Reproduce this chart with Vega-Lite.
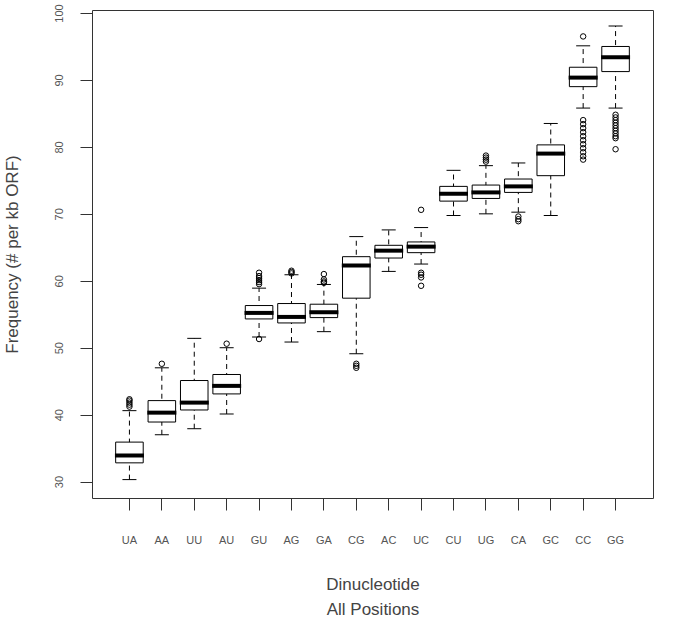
{
  "$schema": "https://vega.github.io/schema/vega-lite/v6.json",
  "width": 561,
  "height": 488,
  "autosize": {"type": "none"},
  "padding": {"left": 92, "top": 10, "right": 33, "bottom": 120},
  "background": "white",
  "config": {
    "view": {"stroke": "#333", "strokeWidth": 1},
    "font": "Liberation Sans",
    "axis": {"grid": false, "domain": false, "tickColor": "#333", "tickSize": 12, "labelColor": "#555", "titleColor": "#444", "titleFontWeight": "normal", "labelFont": "Liberation Sans", "titleFont": "Liberation Sans"}
  },
  "datasets": {
    "boxes": [
      {"cat": "UA", "lo": 30.3, "q1": 32.8, "med": 33.9, "q3": 35.9, "hi": 40.6},
      {"cat": "AA", "lo": 37.0, "q1": 38.9, "med": 40.3, "q3": 42.1, "hi": 47.0},
      {"cat": "UU", "lo": 37.9, "q1": 40.7, "med": 41.8, "q3": 45.1, "hi": 51.4},
      {"cat": "AU", "lo": 40.1, "q1": 43.1, "med": 44.3, "q3": 46.0, "hi": 50.0},
      {"cat": "GU", "lo": 51.6, "q1": 54.3, "med": 55.2, "q3": 56.3, "hi": 58.9},
      {"cat": "AG", "lo": 50.85, "q1": 53.7, "med": 54.6, "q3": 56.6, "hi": 60.9},
      {"cat": "GA", "lo": 52.4, "q1": 54.5, "med": 55.3, "q3": 56.5, "hi": 59.45},
      {"cat": "CG", "lo": 49.1, "q1": 57.4, "med": 62.3, "q3": 63.6, "hi": 66.6},
      {"cat": "AC", "lo": 61.4, "q1": 63.4, "med": 64.5, "q3": 65.3, "hi": 67.6},
      {"cat": "UC", "lo": 62.5, "q1": 64.2, "med": 65.1, "q3": 65.8, "hi": 67.95},
      {"cat": "CU", "lo": 69.75, "q1": 71.9, "med": 73.0, "q3": 74.1, "hi": 76.5},
      {"cat": "UG", "lo": 70.0, "q1": 72.3, "med": 73.2, "q3": 74.3, "hi": 77.2},
      {"cat": "CA", "lo": 70.25, "q1": 73.2, "med": 74.1, "q3": 75.2, "hi": 77.6},
      {"cat": "GC", "lo": 69.75, "q1": 75.7, "med": 79.0, "q3": 80.3, "hi": 83.5},
      {"cat": "CC", "lo": 85.8, "q1": 89.0, "med": 90.35, "q3": 91.9, "hi": 95.1},
      {"cat": "GG", "lo": 85.8, "q1": 91.25, "med": 93.4, "q3": 95.0, "hi": 98.06}
    ],
    "outliers": [
      {"cat": "UA", "v": 41.2}, {"cat": "UA", "v": 41.5}, {"cat": "UA", "v": 41.8}, {"cat": "UA", "v": 42.1}, {"cat": "UA", "v": 42.3},
      {"cat": "AA", "v": 47.6},
      {"cat": "AU", "v": 50.6},
      {"cat": "GU", "v": 59.5}, {"cat": "GU", "v": 59.8}, {"cat": "GU", "v": 60.1}, {"cat": "GU", "v": 60.4}, {"cat": "GU", "v": 60.7}, {"cat": "GU", "v": 61.2}, {"cat": "GU", "v": 51.3},
      {"cat": "AG", "v": 61.1}, {"cat": "AG", "v": 61.3}, {"cat": "AG", "v": 61.5},
      {"cat": "GA", "v": 59.7}, {"cat": "GA", "v": 59.9}, {"cat": "GA", "v": 60.2}, {"cat": "GA", "v": 61.0},
      {"cat": "CG", "v": 47.0}, {"cat": "CG", "v": 47.3}, {"cat": "CG", "v": 47.6},
      {"cat": "UC", "v": 70.6}, {"cat": "UC", "v": 61.2}, {"cat": "UC", "v": 60.9}, {"cat": "UC", "v": 60.5}, {"cat": "UC", "v": 59.25},
      {"cat": "UG", "v": 77.8}, {"cat": "UG", "v": 78.1}, {"cat": "UG", "v": 78.4}, {"cat": "UG", "v": 78.7},
      {"cat": "CA", "v": 69.6}, {"cat": "CA", "v": 69.2}, {"cat": "CA", "v": 68.9},
      {"cat": "CC", "v": 96.5}, {"cat": "CC", "v": 84.0}, {"cat": "CC", "v": 83.4}, {"cat": "CC", "v": 82.8}, {"cat": "CC", "v": 82.2}, {"cat": "CC", "v": 81.6}, {"cat": "CC", "v": 81.0}, {"cat": "CC", "v": 80.4}, {"cat": "CC", "v": 79.8}, {"cat": "CC", "v": 79.2}, {"cat": "CC", "v": 78.6}, {"cat": "CC", "v": 78.1},
      {"cat": "GG", "v": 84.8}, {"cat": "GG", "v": 84.4}, {"cat": "GG", "v": 84.0}, {"cat": "GG", "v": 83.6}, {"cat": "GG", "v": 83.2}, {"cat": "GG", "v": 82.8}, {"cat": "GG", "v": 82.4}, {"cat": "GG", "v": 82.0}, {"cat": "GG", "v": 81.6}, {"cat": "GG", "v": 81.3}, {"cat": "GG", "v": 79.65}
    ]
  },
  "encoding": {
    "x": {
      "field": "cat", "type": "nominal",
      "scale": {"type": "band", "domain": ["UA","AA","UU","AU","GU","AG","GA","CG","AC","UC","CU","UG","CA","GC","CC","GG"], "paddingInner": 0.15, "paddingOuter": 0.73},
      "axis": {"labelAngle": 0, "labelFontSize": 11, "labelBaseline": "alphabetic", "labelPadding": 33, "title": ["Dinucleotide", "All Positions"], "titleFontSize": 17, "titleBaseline": "alphabetic", "titleY": 91, "titleLineHeight": 25}
    }
  },
  "layer": [
    {
      "data": {"name": "boxes"},
      "mark": {"type": "rule", "color": "black", "strokeWidth": 1, "strokeDash": [5, 4], "opacity": 1},
      "encoding": {
        "y": {"field": "lo", "type": "quantitative", "scale": {"domain": [27.55, 100.45], "nice": false, "zero": false},
          "axis": {"values": [30, 40, 50, 60, 70, 80, 90, 100], "labelAngle": 270, "labelAlign": "center", "labelBaseline": "alphabetic", "labelPadding": 18, "labelFontSize": 11, "title": "Frequency (# per kb ORF)", "titleFontSize": 17, "titleBaseline": "alphabetic", "titleX": -75}},
        "y2": {"field": "hi"}
      }
    },
    {
      "data": {"name": "boxes"},
      "mark": {"type": "bar", "fill": "white", "stroke": "black", "strokeWidth": 1, "opacity": 1},
      "encoding": {
        "y": {"field": "q1", "type": "quantitative"},
        "y2": {"field": "q3"}
      }
    },
    {
      "data": {"name": "boxes"},
      "mark": {"type": "tick", "color": "black", "size": 14, "thickness": 1, "opacity": 1},
      "encoding": {"y": {"field": "lo", "type": "quantitative"}}
    },
    {
      "data": {"name": "boxes"},
      "mark": {"type": "tick", "color": "black", "size": 14, "thickness": 1, "opacity": 1},
      "encoding": {"y": {"field": "hi", "type": "quantitative"}}
    },
    {
      "data": {"name": "boxes"},
      "mark": {"type": "tick", "color": "black", "size": 29, "thickness": 4, "opacity": 1},
      "encoding": {"y": {"field": "med", "type": "quantitative"}}
    },
    {
      "data": {"name": "outliers"},
      "mark": {"type": "point", "shape": "circle", "filled": false, "stroke": "black", "strokeWidth": 1, "size": 30, "opacity": 1},
      "encoding": {"y": {"field": "v", "type": "quantitative"}}
    }
  ]
}
